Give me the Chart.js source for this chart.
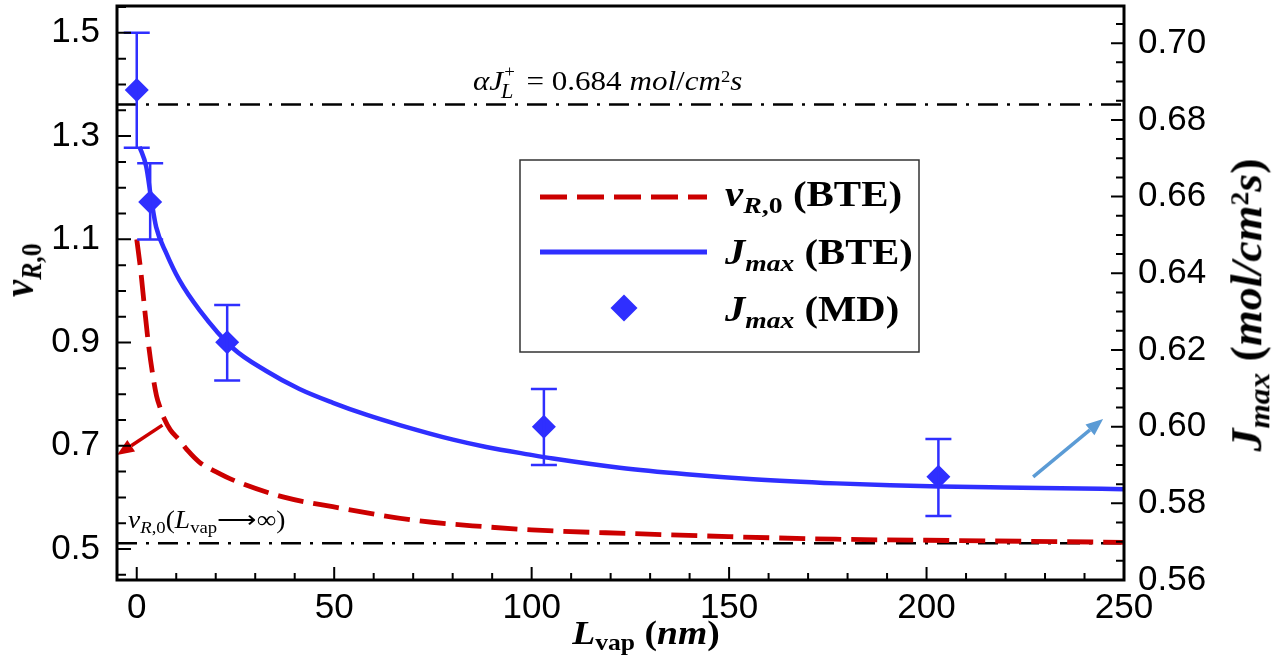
<!DOCTYPE html>
<html>
<head>
<meta charset="utf-8">
<script src="https://cdn.jsdelivr.net/npm/chart.js@4"></script>
<style>
body { margin: 0; background: #fff; }
#wrap { position: relative; width: 1273px; height: 667px; overflow: hidden; }
#wrap canvas { position: absolute; left: 0; top: 0; }
.lbl { position: absolute; white-space: nowrap; font-family: 'Liberation Serif', 'Times New Roman', serif; color: #000; line-height: 1; }
.lbl sub { font-size: 0.68em; vertical-align: -0.28em; line-height: 0; }
.lbl sup { font-size: 0.6em; vertical-align: 0.5em; line-height: 0; }
.sx { transform: scaleX(1.14); transform-origin: 0 0; }
.ss { position: relative; display: inline-block; width: 14px; }
.ss .p { position: absolute; left: 1px; top: -27px; font-size: 17px; }
.ss .l { position: absolute; left: -2px; top: -9px; font-size: 20px; font-style: italic; }
</style>
</head>
<body>
<div id="wrap">
  <canvas id="chart" width="1273" height="667"></canvas>

  <div class="lbl" id="titleLeft" style="left:18px; top:270px; font-size:38px; transform: translate(-50%,-50%) rotate(-90deg) scaleY(1.14);"><b><i>v</i><sub><i>R</i>,0</sub></b></div>
  <div class="lbl" id="titleRight" style="left:1247px; top:305px; font-size:46px; transform: translate(-50%,-50%) rotate(-90deg) scaleY(0.95);"><b><i>J</i><sub><i>max</i></sub> (<i>mol/cm</i><sup>2</sup><i>s</i>)</b></div>
  <div class="lbl" id="titleX" style="left:646px; top:617px; font-size:33px; transform-origin: center; transform: translateX(-50%) scaleX(1.14);"><b><i>L</i><sub>vap</sub> (<i>nm</i>)</b></div>

  <div class="lbl sx" style="left:473px; top:67px; font-size:28px; transform: scaleX(1.11);"><i>α</i><i>J</i><span class="ss"><span class="p">+</span><span class="l">L</span></span> = 0.684 <i>mol</i>/<i>cm</i><sup>2</sup><i>s</i></div>
  <div class="lbl sx" style="left:128px; top:507px; font-size:25px; transform: scaleX(1.1);"><i>v</i><sub><i>R</i>,0</sub>(<i>L</i><sub>vap</sub>⟶∞)</div>

  <div class="lbl sx" style="left:725px; top:177px; font-size:35px; transform: scaleX(1.17);"><b><i>v</i><sub><i>R</i>,0</sub> (BTE)</b></div>
  <div class="lbl sx" style="left:725px; top:235px; font-size:35px; transform: scaleX(1.16);"><b><i>J</i><sub><i>max</i></sub> (BTE)</b></div>
  <div class="lbl sx" style="left:725px; top:292px; font-size:35px; transform: scaleX(1.16);"><b><i>J</i><sub><i>max</i></sub> (MD)</b></div>
</div>

<script>
// axis ranges and tick labels
const xMin = -5, xMax = 250;
const vMin = 0.44, vMax = 1.552;
const jMin = 0.56, jMax = 0.7097;
const xTicks = [0, 50, 100, 150, 200, 250];
const vTicks = [0.5, 0.7, 0.9, 1.1, 1.3, 1.5];
const jTicks = [0.56, 0.58, 0.60, 0.62, 0.64, 0.66, 0.68, 0.70];

// v_R,0 (BTE), left axis
const lvapV = [0, 1, 2, 3, 4, 5, 6, 7, 8.5, 10.8, 13, 15.9, 20, 24.3, 37, 49.6, 71, 88.5, 100, 125, 150, 177, 200, 250];
const vR0 = [1.10, 1.04, 0.965, 0.895, 0.84, 0.797, 0.772, 0.752, 0.731, 0.711, 0.69, 0.668, 0.65, 0.634, 0.601, 0.582, 0.555, 0.543, 0.537, 0.530, 0.524, 0.519, 0.517, 0.513];

// J_max (BTE), right axis
const lvapJ = [0.7, 2.4, 3.7, 4.9, 7.5, 10.8, 15.9, 24.3, 32.8, 41.2, 49.7, 58.1, 66.6, 80.1, 88.5, 99.5, 105.4, 122.3, 139.2, 156.1, 177.2, 190.8, 203.5, 216.1, 228.8, 250];
const jmaxBTE = [0.673, 0.6678, 0.6591, 0.6521, 0.6452, 0.6382, 0.6304, 0.6205, 0.6145, 0.6098, 0.6062, 0.6031, 0.6004, 0.5966, 0.5947, 0.5927, 0.5917, 0.5893, 0.5876, 0.5863, 0.5852, 0.5847, 0.5844, 0.5842, 0.5840, 0.5837];

// J_max (MD) with error bars
const lvapMD = [0, 3.4, 22.9, 103.1, 203];
const jmaxMD = [0.6878, 0.6586, 0.622, 0.600, 0.5869];
const mdErrHi = [0.7027, 0.6687, 0.6317, 0.6098, 0.5968];
const mdErrLo = [0.6727, 0.6488, 0.612, 0.590, 0.5767];

// reference levels
const jLimit = 0.684;
const vInf = 0.511;

// annotation arrows [L, value]
const redArrow = { from: [6.5, 0.740], to: [-5, 0.682] };
const blueArrow = { from: [227, 0.5869], to: [244.7, 0.602] };

const RED = '#cc0000';
const BLUE = '#2f2fff';
const DASHDOT = [20, 9, 3, 9];

Chart.defaults.font.family = "'Liberation Sans', Arial, sans-serif";
Chart.defaults.color = '#000';

const pts = (xs, ys) => xs.map((x, i) => ({ x: x, y: ys[i] }));

const drawArrow = (ctx, x1, y1, x2, y2, color) => {
	const ang = Math.atan2(y2 - y1, x2 - x1);
	const head = 17, half = 7;
	const bx = x2 - head * Math.cos(ang), by = y2 - head * Math.sin(ang);
	ctx.save();
	ctx.strokeStyle = color;
	ctx.fillStyle = color;
	ctx.lineWidth = 3.5;
	ctx.beginPath();
	ctx.moveTo(x1, y1);
	ctx.lineTo(bx, by);
	ctx.stroke();
	ctx.beginPath();
	ctx.moveTo(x2, y2);
	ctx.lineTo(bx + half * Math.sin(ang), by - half * Math.cos(ang));
	ctx.lineTo(bx - half * Math.sin(ang), by + half * Math.cos(ang));
	ctx.closePath();
	ctx.fill();
	ctx.restore();
};

const decor = {
	id: 'decor',
	afterDatasetsDraw(chart) {
		const ctx = chart.ctx;
		const sx = chart.scales.x, sv = chart.scales.y, sj = chart.scales.y2;

		// error bars
		ctx.save();
		ctx.strokeStyle = BLUE;
		ctx.lineWidth = 2.5;
		lvapMD.forEach((L, i) => {
			const px = sx.getPixelForValue(L);
			const top = sj.getPixelForValue(mdErrHi[i]);
			const bot = sj.getPixelForValue(mdErrLo[i]);
			ctx.beginPath();
			ctx.moveTo(px, top); ctx.lineTo(px, bot);
			ctx.moveTo(px - 13, top); ctx.lineTo(px + 13, top);
			ctx.moveTo(px - 13, bot); ctx.lineTo(px + 13, bot);
			ctx.stroke();
		});
		ctx.restore();

		drawArrow(ctx,
			sx.getPixelForValue(redArrow.from[0]), sv.getPixelForValue(redArrow.from[1]),
			sx.getPixelForValue(redArrow.to[0]), sv.getPixelForValue(redArrow.to[1]), RED);
		drawArrow(ctx,
			sx.getPixelForValue(blueArrow.from[0]), sj.getPixelForValue(blueArrow.from[1]),
			sx.getPixelForValue(blueArrow.to[0]), sj.getPixelForValue(blueArrow.to[1]), '#5b9bd5');
	},
	afterDraw(chart) {
		const ctx = chart.ctx;
		const ca = chart.chartArea;
		const sx = chart.scales.x, sv = chart.scales.y, sj = chart.scales.y2;
		ctx.save();
		ctx.strokeStyle = '#000';

		// inward ticks
		ctx.lineWidth = 2;
		ctx.beginPath();
		for (let k = 9; k <= 31; k++) {
			const py = sv.getPixelForValue(k * 0.05);
			const major = k % 4 === 2;
			ctx.moveTo(ca.left, py); ctx.lineTo(ca.left + (major ? 14 : 9), py);
		}
		for (let k = 112; k <= 141; k++) {
			const py = sj.getPixelForValue(k * 0.005);
			const major = k % 4 === 0;
			ctx.moveTo(ca.right, py); ctx.lineTo(ca.right - (major ? 13 : 8), py);
		}
		for (let k = 0; k <= 24; k++) {
			const px = sx.getPixelForValue(k * 10);
			const major = k % 5 === 0;
			ctx.moveTo(px, ca.bottom); ctx.lineTo(px, ca.bottom - (major ? 13 : 7));
		}
		ctx.stroke();

		// frame
		ctx.lineWidth = 3;
		ctx.strokeRect(ca.left, ca.top, ca.right - ca.left, ca.bottom - ca.top);

		// legend box
		ctx.fillStyle = '#fff';
		ctx.fillRect(520, 160, 399, 192);
		ctx.lineWidth = 1.5;
		ctx.strokeStyle = '#333';
		ctx.strokeRect(520, 160, 399, 192);

		ctx.lineWidth = 5;
		ctx.strokeStyle = RED;
		ctx.setLineDash([27, 10]);
		ctx.beginPath(); ctx.moveTo(540, 197); ctx.lineTo(707, 197); ctx.stroke();
		ctx.setLineDash([]);
		ctx.strokeStyle = BLUE;
		ctx.beginPath(); ctx.moveTo(540, 252); ctx.lineTo(707, 252); ctx.stroke();
		ctx.fillStyle = BLUE;
		ctx.beginPath();
		ctx.moveTo(624, 294.5); ctx.lineTo(637.5, 308); ctx.lineTo(624, 321.5); ctx.lineTo(610.5, 308);
		ctx.closePath(); ctx.fill();
		ctx.restore();
	}
};

const zeroPad = (s) => {
	s.paddingTop = 0; s.paddingBottom = 0; s.paddingLeft = 0; s.paddingRight = 0;
};

new Chart(document.getElementById('chart'), {
	type: 'scatter',
	data: {
		datasets: [
			{
				label: 'Jmax (MD)',
				data: pts(lvapMD, jmaxMD),
				yAxisID: 'y2',
				pointStyle: 'rectRot',
				pointRadius: 12,
				backgroundColor: BLUE,
				borderColor: BLUE,
				borderWidth: 0,
				order: 1,
			},
			{
				label: 'Jmax (BTE)',
				data: pts(lvapJ, jmaxBTE),
				yAxisID: 'y2',
				showLine: true,
				borderColor: BLUE,
				borderWidth: 4.5,
				pointRadius: 0,
				cubicInterpolationMode: 'monotone',
				order: 2,
			},
			{
				label: 'vR0 (BTE)',
				data: pts(lvapV, vR0),
				yAxisID: 'y',
				showLine: true,
				borderColor: RED,
				borderWidth: 4.8,
				borderDash: [26, 10],
				pointRadius: 0,
				cubicInterpolationMode: 'monotone',
				order: 3,
			},
			{
				label: 'alpha JL+',
				data: pts([xMin, xMax], [jLimit, jLimit]),
				yAxisID: 'y2',
				showLine: true,
				borderColor: '#000',
				borderWidth: 2.5,
				borderDash: DASHDOT,
				pointRadius: 0,
				order: 5,
			},
			{
				label: 'vR0 inf',
				data: pts([xMin, xMax], [vInf, vInf]),
				yAxisID: 'y',
				showLine: true,
				borderColor: '#000',
				borderWidth: 2.5,
				borderDash: DASHDOT,
				pointRadius: 0,
				order: 5,
			},
		],
	},
	options: {
		responsive: false,
		animation: false,
		events: [],
		layout: { autoPadding: false, padding: { top: 6, left: 0, right: 0, bottom: 0 } },
		plugins: {
			legend: { display: false },
			tooltip: { enabled: false },
		},
		scales: {
			x: {
				type: 'linear',
				min: xMin,
				max: xMax,
				grid: { display: false, drawTicks: false },
				border: { display: false },
				afterBuildTicks: (s) => { s.ticks = xTicks.map((v) => ({ value: v })); },
				afterFit: (s) => { s.height = 87; zeroPad(s); },
				ticks: {
					font: { size: 35 },
					padding: 7,
					maxRotation: 0,
					autoSkip: false,
					callback: (v) => String(v),
				},
			},
			y: {
				position: 'left',
				min: vMin,
				max: vMax,
				grid: { display: false, drawTicks: false },
				border: { display: false },
				afterBuildTicks: (s) => { s.ticks = vTicks.map((v) => ({ value: v })); },
				afterFit: (s) => { s.width = 117; zeroPad(s); },
				ticks: {
					font: { size: 35 },
					padding: 17,
					autoSkip: false,
					callback: (v) => v.toFixed(1),
				},
			},
			y2: {
				position: 'right',
				min: jMin,
				max: jMax,
				grid: { display: false, drawTicks: false },
				border: { display: false },
				afterBuildTicks: (s) => { s.ticks = jTicks.map((v) => ({ value: v })); },
				afterFit: (s) => { s.width = 149; zeroPad(s); },
				ticks: {
					font: { size: 35 },
					padding: 14,
					autoSkip: false,
					callback: (v) => v.toFixed(2),
				},
			},
		},
	},
	plugins: [decor],
});
</script>
</body>
</html>
